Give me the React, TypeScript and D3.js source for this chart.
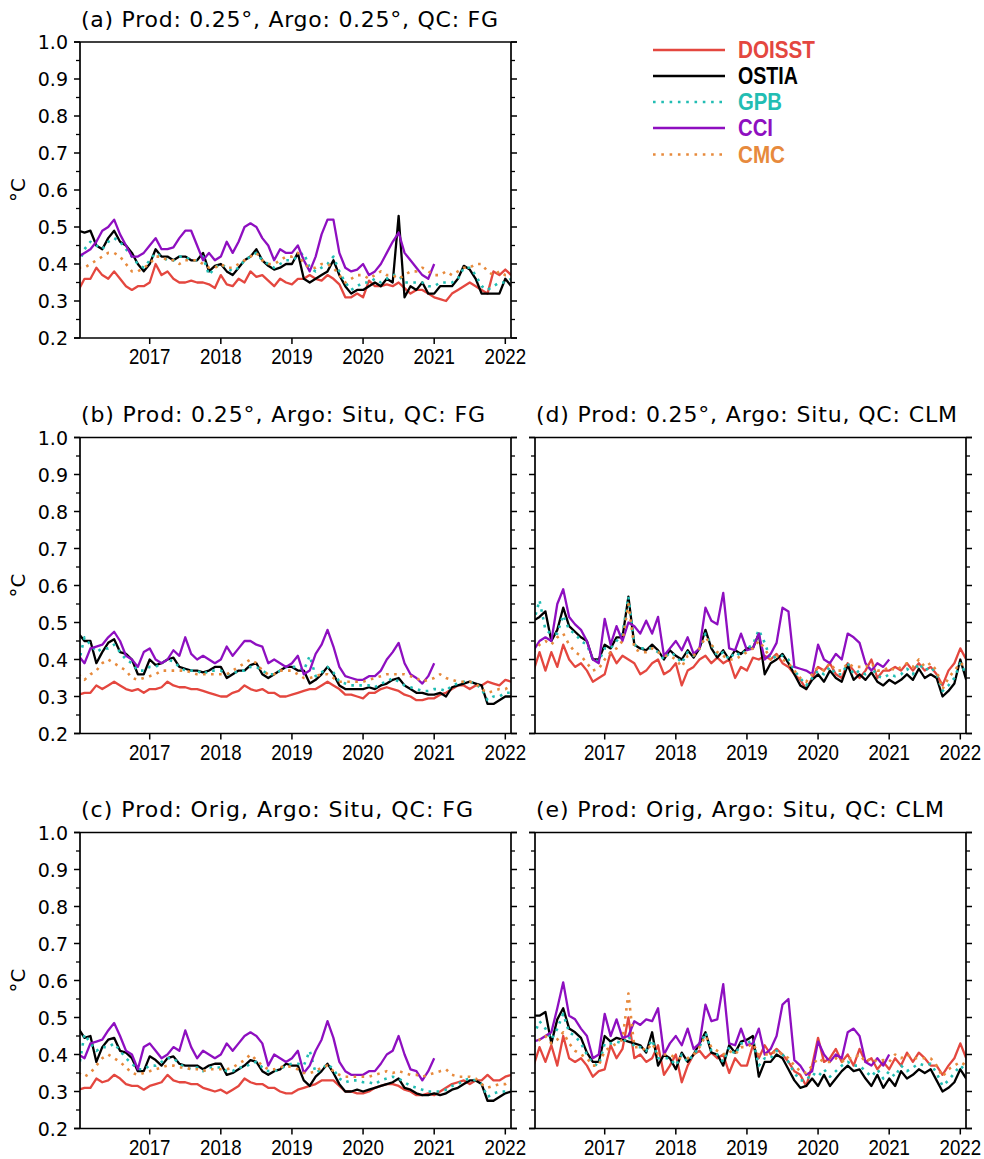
import React from "react";
import * as d3 from "d3";

// monthly time axis, Jan 2016 .. Feb 2022
const months = d3.range(74).map((i) => 2016 + i / 12);
const seriesNames = ["DOISST", "OSTIA", "GPB", "CCI", "CMC"];
const yTicks = [0.2, 0.3, 0.4, 0.5, 0.6, 0.7, 0.8, 0.9, 1.0];
const yMinorTicks = [0.25, 0.35, 0.45, 0.55, 0.65, 0.75, 0.85, 0.95];
const xTicks = [2017, 2018, 2019, 2020, 2021, 2022];

// (a) Prod 0.25, Argo 0.25, QC FG
const doisstA = [
  0.33, 0.36, 0.36, 0.39, 0.37, 0.36, 0.38, 0.36, 0.34, 0.33, 0.34, 0.34,
  0.35, 0.40, 0.37, 0.38, 0.36, 0.35, 0.35, 0.355, 0.35, 0.35, 0.345, 0.335,
  0.37, 0.345, 0.34, 0.36, 0.35, 0.38, 0.365, 0.37, 0.355, 0.34, 0.36, 0.35,
  0.345, 0.36, 0.36, 0.37, 0.36, 0.355, 0.37, 0.36, 0.345, 0.31, 0.31, 0.32,
  0.31, 0.355, 0.34, 0.34, 0.345, 0.34, 0.35, 0.335, 0.32, 0.33, 0.33, 0.32,
  0.31, 0.305, 0.30, 0.32, 0.33, 0.34, 0.35, 0.34, 0.33, 0.32, 0.38, 0.37,
  0.385, 0.37,
];
const ostiaA = [
  0.49, 0.485, 0.49, 0.45, 0.44, 0.47, 0.49, 0.46, 0.45, 0.43, 0.40, 0.38,
  0.40, 0.44, 0.42, 0.42, 0.41, 0.42, 0.42, 0.41, 0.41, 0.43, 0.38, 0.395,
  0.40, 0.38, 0.37, 0.39, 0.41, 0.42, 0.44, 0.41, 0.395, 0.385, 0.39, 0.40,
  0.40, 0.43, 0.36, 0.35, 0.36, 0.37, 0.38, 0.41, 0.37, 0.34, 0.32, 0.33,
  0.33, 0.34, 0.35, 0.34, 0.36, 0.35, 0.53, 0.31, 0.34, 0.33, 0.35, 0.32,
  0.32, 0.34, 0.34, 0.34, 0.36, 0.395, 0.385, 0.36, 0.32, 0.32, 0.32, 0.32,
  0.36, 0.34,
];
const gpbA = [
  0.40, 0.44, 0.46, 0.45, 0.44, 0.46, 0.47, 0.46, 0.44, 0.42, 0.40, 0.39,
  0.41, 0.43, 0.42, 0.41, 0.41, 0.42, 0.42, 0.41, 0.41, 0.42, 0.37, 0.39,
  0.40, 0.39, 0.38, 0.39, 0.41, 0.42, 0.43, 0.41, 0.40, 0.39, 0.40, 0.41,
  0.41, 0.42, 0.43, 0.39, 0.38, 0.39, 0.40, 0.42, 0.38, 0.35, 0.33, 0.34,
  0.35, 0.35, 0.36, 0.35, 0.36, 0.37, 0.37, 0.35, 0.35, 0.35, 0.35, 0.34,
  0.34, 0.35, 0.35, 0.35, 0.36, 0.39, 0.39, 0.37, 0.34, 0.33, 0.34, 0.35,
  0.35, 0.36,
];
const cciA = [
  0.42, 0.43, 0.44, 0.46, 0.49, 0.50, 0.52, 0.48, 0.45, 0.42, 0.42, 0.43,
  0.45, 0.47, 0.44, 0.44, 0.445, 0.47, 0.49, 0.49, 0.45, 0.41, 0.43, 0.41,
  0.42, 0.46, 0.43, 0.46, 0.50, 0.51, 0.50, 0.47, 0.45, 0.41, 0.44, 0.43,
  0.43, 0.45, 0.41, 0.38, 0.42, 0.48, 0.52, 0.52, 0.43, 0.39, 0.38, 0.385,
  0.40, 0.37, 0.38, 0.40, 0.43, 0.46, 0.485, 0.43, 0.41, 0.39, 0.37, 0.36,
  0.40,
];
const cmcA = [
  0.39, 0.39, 0.40, 0.41, 0.42, 0.43, 0.43, 0.42, 0.40, 0.38, 0.38, 0.39,
  0.40, 0.42, 0.42, 0.41, 0.41, 0.40, 0.41, 0.41, 0.41, 0.40, 0.39, 0.39,
  0.40, 0.39, 0.39, 0.40, 0.41, 0.42, 0.43, 0.41, 0.40, 0.40, 0.41, 0.42,
  0.42, 0.43, 0.40, 0.39, 0.39, 0.40, 0.40, 0.39, 0.37, 0.35, 0.36, 0.37,
  0.37, 0.36, 0.37, 0.38, 0.37, 0.37, 0.36, 0.37, 0.38, 0.38, 0.39, 0.38,
  0.37, 0.37, 0.38, 0.37, 0.38, 0.39, 0.39, 0.40, 0.40, 0.38, 0.37, 0.38,
  0.37, 0.37,
];

// (b) Prod 0.25, Argo Situ, QC FG
const doisstB = [
  0.305, 0.31, 0.31, 0.33, 0.32, 0.33, 0.34, 0.33, 0.32, 0.315, 0.32, 0.31,
  0.32, 0.32, 0.325, 0.34, 0.33, 0.325, 0.325, 0.32, 0.32, 0.315, 0.31, 0.305,
  0.30, 0.30, 0.31, 0.315, 0.33, 0.32, 0.315, 0.32, 0.31, 0.31, 0.30, 0.30,
  0.305, 0.31, 0.315, 0.32, 0.32, 0.33, 0.34, 0.33, 0.32, 0.305, 0.305, 0.30,
  0.295, 0.31, 0.31, 0.32, 0.325, 0.32, 0.315, 0.305, 0.30, 0.29, 0.29, 0.295,
  0.295, 0.305, 0.31, 0.32, 0.33, 0.33, 0.32, 0.33, 0.33, 0.34, 0.335, 0.33,
  0.345, 0.34,
];
const ostiaB = [
  0.47, 0.45, 0.45, 0.39, 0.42, 0.445, 0.455, 0.42, 0.415, 0.40, 0.36, 0.36,
  0.40, 0.385, 0.39, 0.40, 0.405, 0.38, 0.375, 0.37, 0.37, 0.365, 0.37, 0.38,
  0.38, 0.35, 0.36, 0.37, 0.37, 0.385, 0.39, 0.36, 0.35, 0.36, 0.37, 0.38,
  0.38, 0.37, 0.37, 0.335, 0.345, 0.36, 0.38, 0.36, 0.33, 0.32, 0.32, 0.32,
  0.32, 0.325, 0.32, 0.33, 0.335, 0.345, 0.35, 0.33, 0.32, 0.31, 0.31, 0.305,
  0.305, 0.31, 0.30, 0.325, 0.33, 0.335, 0.34, 0.335, 0.33, 0.28, 0.28, 0.29,
  0.30, 0.30,
];
const gpbB = [
  0.39, 0.46, 0.44, 0.42, 0.43, 0.43, 0.44, 0.42, 0.40, 0.39, 0.37, 0.37,
  0.38, 0.38, 0.39, 0.40, 0.395, 0.38, 0.37, 0.37, 0.37, 0.36, 0.37, 0.37,
  0.37, 0.36, 0.36, 0.37, 0.37, 0.38, 0.38, 0.37, 0.36, 0.36, 0.37, 0.38,
  0.38, 0.38, 0.37, 0.41, 0.355, 0.365, 0.38, 0.365, 0.34, 0.335, 0.33, 0.33,
  0.33, 0.33, 0.325, 0.335, 0.34, 0.35, 0.34, 0.33, 0.325, 0.32, 0.315, 0.315,
  0.32, 0.32, 0.315, 0.33, 0.335, 0.34, 0.34, 0.335, 0.32, 0.29, 0.30, 0.30,
  0.31, 0.31,
];
const cciB = [
  0.41, 0.39, 0.43, 0.435, 0.44, 0.46, 0.475, 0.45, 0.41, 0.40, 0.38, 0.42,
  0.43, 0.40, 0.39, 0.40, 0.425, 0.41, 0.46, 0.415, 0.40, 0.41, 0.40, 0.39,
  0.40, 0.435, 0.41, 0.43, 0.45, 0.45, 0.44, 0.435, 0.39, 0.40, 0.39, 0.38,
  0.39, 0.41, 0.36, 0.37, 0.415, 0.44, 0.48, 0.435, 0.38, 0.355, 0.35, 0.345,
  0.345, 0.355, 0.355, 0.37, 0.40, 0.42, 0.445, 0.39, 0.36, 0.35, 0.335, 0.355,
  0.39,
];
const cmcB = [
  0.36, 0.345, 0.36, 0.37, 0.39, 0.40, 0.39, 0.38, 0.37, 0.35, 0.345, 0.35,
  0.355, 0.36, 0.37, 0.37, 0.37, 0.37, 0.37, 0.365, 0.36, 0.36, 0.36, 0.36,
  0.36, 0.36, 0.37, 0.38, 0.39, 0.40, 0.39, 0.37, 0.36, 0.36, 0.37, 0.37,
  0.37, 0.36, 0.35, 0.35, 0.355, 0.36, 0.36, 0.35, 0.34, 0.34, 0.34, 0.34,
  0.34, 0.345, 0.35, 0.355, 0.36, 0.36, 0.36, 0.36, 0.355, 0.35, 0.34, 0.345,
  0.35, 0.36, 0.35, 0.345, 0.34, 0.34, 0.34, 0.335, 0.32, 0.31, 0.315, 0.32,
  0.32, 0.33,
];

// (c) Prod Orig, Argo Situ, QC FG
const doisstC = [
  0.305, 0.31, 0.31, 0.335, 0.325, 0.33, 0.345, 0.335, 0.32, 0.315, 0.315, 0.305,
  0.315, 0.32, 0.325, 0.345, 0.33, 0.325, 0.325, 0.32, 0.32, 0.31, 0.305, 0.30,
  0.305, 0.295, 0.305, 0.315, 0.335, 0.325, 0.32, 0.32, 0.31, 0.31, 0.30, 0.295,
  0.295, 0.305, 0.31, 0.315, 0.32, 0.33, 0.33, 0.33, 0.315, 0.30, 0.30, 0.295,
  0.295, 0.30, 0.31, 0.315, 0.32, 0.32, 0.315, 0.305, 0.30, 0.29, 0.29, 0.295,
  0.29, 0.30, 0.31, 0.32, 0.325, 0.33, 0.32, 0.33, 0.33, 0.345, 0.33, 0.33,
  0.34, 0.345,
];
const ostiaC = [
  0.47, 0.445, 0.45, 0.38, 0.42, 0.44, 0.445, 0.41, 0.405, 0.39, 0.355, 0.355,
  0.395, 0.385, 0.37, 0.39, 0.395, 0.375, 0.37, 0.37, 0.37, 0.36, 0.37, 0.375,
  0.375, 0.345, 0.35, 0.36, 0.37, 0.385, 0.38, 0.355, 0.345, 0.355, 0.36, 0.375,
  0.37, 0.37, 0.33, 0.315, 0.34, 0.355, 0.375, 0.35, 0.32, 0.30, 0.30, 0.305,
  0.30, 0.305, 0.31, 0.315, 0.32, 0.325, 0.335, 0.31, 0.305, 0.295, 0.29, 0.29,
  0.295, 0.29, 0.295, 0.305, 0.31, 0.32, 0.33, 0.33, 0.32, 0.275, 0.275, 0.285,
  0.295, 0.30,
];
const gpbC = [
  0.36, 0.455, 0.43, 0.41, 0.42, 0.42, 0.43, 0.41, 0.39, 0.375, 0.36, 0.36,
  0.37, 0.37, 0.38, 0.39, 0.39, 0.375, 0.365, 0.36, 0.365, 0.355, 0.365, 0.365,
  0.365, 0.355, 0.355, 0.365, 0.365, 0.375, 0.38, 0.365, 0.355, 0.355, 0.36, 0.37,
  0.375, 0.375, 0.37, 0.41, 0.35, 0.36, 0.375, 0.36, 0.335, 0.325, 0.33, 0.33,
  0.325, 0.325, 0.32, 0.33, 0.335, 0.34, 0.335, 0.325, 0.315, 0.31, 0.305, 0.30,
  0.30, 0.30, 0.305, 0.315, 0.32, 0.33, 0.335, 0.33, 0.32, 0.285, 0.295, 0.30,
  0.30, 0.305,
];
const cciC = [
  0.40, 0.39, 0.43, 0.435, 0.44, 0.465, 0.485, 0.45, 0.41, 0.40, 0.36, 0.42,
  0.43, 0.41, 0.39, 0.40, 0.42, 0.41, 0.465, 0.42, 0.39, 0.41, 0.40, 0.39,
  0.40, 0.43, 0.41, 0.43, 0.45, 0.46, 0.45, 0.43, 0.37, 0.40, 0.39, 0.38,
  0.39, 0.41, 0.35, 0.37, 0.41, 0.44, 0.49, 0.445, 0.38, 0.355, 0.345, 0.345,
  0.345, 0.355, 0.355, 0.375, 0.40, 0.41, 0.45, 0.40, 0.36, 0.355, 0.33, 0.355,
  0.39,
];
const cmcC = [
  0.35, 0.34, 0.35, 0.37, 0.39, 0.40, 0.39, 0.38, 0.365, 0.35, 0.345, 0.35,
  0.355, 0.36, 0.365, 0.37, 0.37, 0.365, 0.365, 0.36, 0.36, 0.355, 0.36, 0.36,
  0.36, 0.36, 0.365, 0.375, 0.385, 0.40, 0.385, 0.37, 0.36, 0.36, 0.365, 0.37,
  0.365, 0.36, 0.35, 0.35, 0.355, 0.365, 0.37, 0.355, 0.345, 0.34, 0.34, 0.34,
  0.34, 0.34, 0.345, 0.35, 0.355, 0.35, 0.355, 0.35, 0.345, 0.345, 0.34, 0.345,
  0.35, 0.355, 0.36, 0.345, 0.34, 0.34, 0.34, 0.335, 0.32, 0.31, 0.315, 0.32,
  0.32, 0.33,
];

// (d) Prod 0.25, Argo Situ, QC CLM
const doisstD = [
  0.37, 0.42, 0.37, 0.42, 0.38, 0.44, 0.40, 0.38, 0.39, 0.37, 0.34, 0.35,
  0.36, 0.42, 0.39, 0.41, 0.40, 0.39, 0.36, 0.37, 0.39, 0.40, 0.36, 0.37,
  0.39, 0.33, 0.37, 0.38, 0.40, 0.41, 0.39, 0.405, 0.39, 0.40, 0.35, 0.38,
  0.37, 0.405, 0.40, 0.41, 0.40, 0.415, 0.39, 0.38, 0.36, 0.345, 0.32, 0.35,
  0.38, 0.37, 0.39, 0.36, 0.35, 0.39, 0.37, 0.35, 0.37, 0.40, 0.35, 0.37,
  0.37, 0.38, 0.37, 0.39, 0.37, 0.39, 0.37, 0.38, 0.36, 0.33, 0.37, 0.39,
  0.43, 0.40,
];
const ostiaD = [
  0.505, 0.515, 0.53, 0.45, 0.48, 0.54, 0.49, 0.475, 0.46, 0.45, 0.40, 0.40,
  0.44, 0.43, 0.46, 0.46, 0.57, 0.44, 0.43, 0.425, 0.44, 0.425, 0.40, 0.425,
  0.41, 0.40, 0.425, 0.405, 0.43, 0.48, 0.43, 0.405, 0.425, 0.40, 0.425, 0.415,
  0.43, 0.43, 0.47, 0.36, 0.39, 0.40, 0.415, 0.39, 0.36, 0.33, 0.32, 0.345,
  0.36, 0.34, 0.37, 0.35, 0.34, 0.385, 0.345, 0.36, 0.345, 0.365, 0.34, 0.33,
  0.345, 0.335, 0.345, 0.36, 0.345, 0.375, 0.35, 0.36, 0.35, 0.30, 0.315, 0.335,
  0.40, 0.345,
];
const gpbD = [
  0.50, 0.56, 0.48, 0.47, 0.47, 0.52, 0.48, 0.47, 0.45, 0.44, 0.40, 0.395,
  0.43, 0.43, 0.45, 0.47, 0.57, 0.44, 0.43, 0.43, 0.43, 0.42, 0.40, 0.42,
  0.41, 0.39, 0.42, 0.41, 0.43, 0.47, 0.44, 0.41, 0.42, 0.40, 0.42, 0.41,
  0.43, 0.44, 0.48, 0.445, 0.40, 0.41, 0.41, 0.40, 0.37, 0.35, 0.33, 0.35,
  0.37, 0.36, 0.38, 0.36, 0.36, 0.39, 0.36, 0.37, 0.36, 0.38, 0.355, 0.35,
  0.36, 0.355, 0.36, 0.375, 0.36, 0.39, 0.37, 0.38, 0.36, 0.315, 0.33, 0.35,
  0.39, 0.36,
];
const cciD = [
  0.425, 0.45, 0.46, 0.45, 0.55, 0.59, 0.515, 0.495, 0.48, 0.45, 0.40, 0.39,
  0.51, 0.44, 0.49, 0.45, 0.50, 0.49, 0.47, 0.505, 0.47, 0.515, 0.41, 0.43,
  0.45, 0.425, 0.46, 0.415, 0.43, 0.54, 0.505, 0.495, 0.58, 0.43, 0.425, 0.47,
  0.425, 0.43, 0.47, 0.40, 0.415, 0.445, 0.54, 0.53, 0.38, 0.375, 0.37, 0.36,
  0.44, 0.40, 0.39, 0.415, 0.40, 0.47, 0.46, 0.445, 0.39, 0.37, 0.39, 0.38,
  0.40,
];
const cmcD = [
  0.42, 0.44, 0.45, 0.44, 0.46, 0.47, 0.44, 0.42, 0.41, 0.39, 0.37, 0.375,
  0.40, 0.42, 0.43, 0.45, 0.55, 0.43, 0.42, 0.42, 0.43, 0.42, 0.41, 0.41,
  0.40, 0.38, 0.41, 0.41, 0.43, 0.46, 0.44, 0.42, 0.41, 0.40, 0.40, 0.41,
  0.42, 0.43, 0.45, 0.43, 0.40, 0.41, 0.40, 0.39, 0.37, 0.35, 0.34, 0.36,
  0.38, 0.37, 0.39, 0.37, 0.37, 0.39, 0.38, 0.38, 0.38, 0.39, 0.37, 0.37,
  0.38, 0.37, 0.38, 0.39, 0.38, 0.40, 0.38, 0.39, 0.37, 0.32, 0.35, 0.37,
  0.39, 0.38,
];

// (e) Prod Orig, Argo Situ, QC CLM
const doisstE = [
  0.37, 0.42, 0.38, 0.425, 0.37, 0.45, 0.39, 0.38, 0.39, 0.37, 0.34, 0.355,
  0.36, 0.425, 0.39, 0.415, 0.50, 0.39, 0.40, 0.38, 0.39, 0.425, 0.345, 0.37,
  0.40, 0.325, 0.37, 0.40, 0.41, 0.39, 0.405, 0.39, 0.40, 0.35, 0.39, 0.37,
  0.37, 0.425, 0.39, 0.425, 0.40, 0.415, 0.40, 0.38, 0.355, 0.345, 0.315, 0.37,
  0.445, 0.38, 0.39, 0.415, 0.38, 0.40, 0.37, 0.415, 0.38, 0.39, 0.36, 0.38,
  0.36, 0.39, 0.37, 0.405, 0.38, 0.405, 0.39, 0.37, 0.37, 0.345, 0.37, 0.39,
  0.43, 0.39,
];
const ostiaE = [
  0.505, 0.505, 0.515, 0.43, 0.495, 0.525, 0.47, 0.46, 0.445, 0.405, 0.38, 0.38,
  0.45, 0.435, 0.445, 0.44, 0.435, 0.43, 0.425, 0.405, 0.46, 0.37, 0.40, 0.39,
  0.36, 0.405, 0.38, 0.40, 0.43, 0.46, 0.405, 0.40, 0.37, 0.425, 0.405, 0.435,
  0.44, 0.45, 0.34, 0.38, 0.38, 0.40, 0.39, 0.36, 0.33, 0.31, 0.315, 0.335,
  0.315, 0.345, 0.315, 0.335, 0.355, 0.37, 0.355, 0.36, 0.335, 0.315, 0.345, 0.31,
  0.335, 0.315, 0.355, 0.335, 0.345, 0.36, 0.35, 0.36, 0.33, 0.30, 0.31, 0.325,
  0.36, 0.335,
];
const gpbE = [
  0.45, 0.49, 0.47, 0.44, 0.47, 0.51, 0.46, 0.45, 0.43, 0.40, 0.375, 0.37,
  0.43, 0.43, 0.435, 0.43, 0.45, 0.42, 0.42, 0.41, 0.44, 0.39, 0.39, 0.39,
  0.37, 0.40, 0.38, 0.40, 0.42, 0.46, 0.41, 0.40, 0.38, 0.42, 0.40, 0.43,
  0.43, 0.44, 0.37, 0.39, 0.39, 0.41, 0.40, 0.38, 0.35, 0.33, 0.33, 0.35,
  0.34, 0.36, 0.34, 0.355, 0.37, 0.38, 0.37, 0.37, 0.355, 0.34, 0.36, 0.335,
  0.355, 0.34, 0.37, 0.355, 0.365, 0.375, 0.37, 0.375, 0.35, 0.315, 0.33, 0.35,
  0.37, 0.355,
];
const cciE = [
  0.435, 0.44, 0.45, 0.46, 0.525, 0.595, 0.505, 0.495, 0.47, 0.45, 0.39, 0.40,
  0.51, 0.45, 0.495, 0.445, 0.45, 0.49, 0.48, 0.495, 0.49, 0.525, 0.40, 0.43,
  0.45, 0.425, 0.47, 0.415, 0.43, 0.535, 0.49, 0.495, 0.59, 0.43, 0.425, 0.47,
  0.425, 0.43, 0.47, 0.40, 0.415, 0.45, 0.535, 0.55, 0.385, 0.37, 0.345, 0.355,
  0.435, 0.40, 0.38, 0.40, 0.39, 0.46, 0.47, 0.45, 0.38, 0.37, 0.39, 0.37,
  0.40,
];
const cmcE = [
  0.42, 0.44, 0.45, 0.43, 0.44, 0.46, 0.43, 0.41, 0.40, 0.39, 0.37, 0.37,
  0.41, 0.42, 0.43, 0.44, 0.565, 0.42, 0.42, 0.41, 0.43, 0.40, 0.40, 0.40,
  0.39, 0.39, 0.39, 0.40, 0.42, 0.45, 0.42, 0.41, 0.40, 0.41, 0.40, 0.42,
  0.42, 0.43, 0.40, 0.40, 0.40, 0.41, 0.40, 0.39, 0.37, 0.355, 0.35, 0.37,
  0.39, 0.38, 0.38, 0.39, 0.38, 0.39, 0.39, 0.40, 0.38, 0.39, 0.38, 0.385,
  0.38, 0.40, 0.39, 0.40, 0.39, 0.39, 0.39, 0.39, 0.37, 0.34, 0.36, 0.37,
  0.38, 0.37,
];

const colors: Record<string, string> = {
  DOISST: "#e4473f",
  OSTIA: "#000000",
  GPB: "#22bdb3",
  CCI: "#8e0fc0",
  CMC: "#e78a3c",
};
const dotted: Record<string, boolean> = { GPB: true, CMC: true };

const panels = [
  { title: "(a) Prod: 0.25°, Argo: 0.25°, QC: FG", col: 0, row: 0, tl: 417,
    series: [doisstA, ostiaA, gpbA, cciA, cmcA] },
  { title: "(b) Prod: 0.25°, Argo: Situ, QC: FG", col: 0, row: 1, tl: 404,
    series: [doisstB, ostiaB, gpbB, cciB, cmcB] },
  { title: "(c) Prod: Orig, Argo: Situ, QC: FG", col: 0, row: 2, tl: 392,
    series: [doisstC, ostiaC, gpbC, cciC, cmcC] },
  { title: "(d) Prod: 0.25°, Argo: Situ, QC: CLM", col: 1, row: 1, tl: 421,
    series: [doisstD, ostiaD, gpbD, cciD, cmcD] },
  { title: "(e) Prod: Orig, Argo: Situ, QC: CLM", col: 1, row: 2, tl: 408,
    series: [doisstE, ostiaE, gpbE, cciE, cmcE] },
];

const colLeft = [80, 535];
const rowTop = [42, 437.5, 832.5];
const PW = 431;
const PH = 296;

const Panel = ({ p, idx }: { p: (typeof panels)[number]; idx: number }) => {
  const left = colLeft[p.col];
  const top = rowTop[p.row];
  const x = d3.scaleLinear().domain([2016.02, 2022.08]).range([left, left + PW]);
  const y = d3.scaleLinear().domain([0.2, 1.0]).range([top + PH, top]);
  const line = d3
    .line<number>()
    .x((_, i) => x(months[i]))
    .y((d) => y(d));
  const clipId = `clip-${idx}`;
  const axisW = 1.7;

  return (
    <g>
      <defs>
        <clipPath id={clipId}>
          <rect x={left} y={top - 2} width={PW} height={PH + 4} />
        </clipPath>
      </defs>

      {/* title */}
      <text
        x={left + 1}
        y={top - 15.5}
        fontFamily="DejaVu Sans"
        fontSize={22}
        textLength={p.tl}
        lengthAdjust="spacing"
        fill="#000"
      >
        {p.title}
      </text>

      {/* data lines */}
      <g clipPath={`url(#${clipId})`}>
        {p.series.map((vals, k) => {
          const name = seriesNames[k];
          return (
            <path
              key={name}
              d={line(vals) ?? ""}
              fill="none"
              stroke={colors[name]}
              strokeWidth={dotted[name] ? 2.6 : 2.3}
              strokeDasharray={dotted[name] ? "2.6 5.4" : undefined}
              strokeLinejoin="round"
            />
          );
        })}
      </g>

      {/* frame */}
      <line x1={left - 6} x2={left + PW + 6} y1={top} y2={top} stroke="#000" strokeWidth={axisW} />
      <line x1={left - 6} x2={left + PW + 6} y1={top + PH} y2={top + PH} stroke="#000" strokeWidth={axisW} />
      <line x1={left} x2={left} y1={top} y2={top + PH} stroke="#000" strokeWidth={axisW} />
      <line x1={left + PW} x2={left + PW} y1={top} y2={top + PH} stroke="#000" strokeWidth={axisW} />

      {/* y ticks, both sides outward */}
      {yTicks.map((t) => (
        <g key={`M${t}`}>
          <line x1={left - 6} x2={left} y1={y(t)} y2={y(t)} stroke="#000" strokeWidth={1.5} />
          <line x1={left + PW} x2={left + PW + 6} y1={y(t)} y2={y(t)} stroke="#000" strokeWidth={1.5} />
        </g>
      ))}
      {yMinorTicks.map((t) => (
        <g key={`m${t}`}>
          <line x1={left - 4} x2={left} y1={y(t)} y2={y(t)} stroke="#000" strokeWidth={1.3} />
          <line x1={left + PW} x2={left + PW + 4} y1={y(t)} y2={y(t)} stroke="#000" strokeWidth={1.3} />
        </g>
      ))}

      {/* x ticks and labels (narrow, like the original font) */}
      {xTicks.map((t) => (
        <g key={`x${t}`}>
          <line x1={x(t)} x2={x(t)} y1={top + PH} y2={top + PH + 6} stroke="#000" strokeWidth={1.5} />
          <text
            transform={`translate(${x(t)},${top + PH + 26}) scale(0.85,1)`}
            textAnchor="middle"
            fontFamily="Liberation Sans"
            fontSize={22}
            fill="#000"
          >
            {t}
          </text>
        </g>
      ))}

      {/* y labels on left column only */}
      {p.col === 0 &&
        yTicks.map((t) => (
          <text
            key={`yl${t}`}
            x={68}
            y={y(t)}
            textAnchor="end"
            dominantBaseline="central"
            fontFamily="DejaVu Sans"
            fontSize={19}
            fill="#000"
          >
            {t.toFixed(1)}
          </text>
        ))}
      {p.col === 0 && (
        <text
          transform={`translate(25,${y(0.6)}) rotate(-90)`}
          textAnchor="middle"
          fontFamily="DejaVu Sans"
          fontSize={20}
          fill="#000"
        >
          °C
        </text>
      )}
    </g>
  );
};

const legendRows = [50, 76, 102, 128, 154.5];
const legendLen = [77, 60, 44, 35, 47];

const Legend = () => (
  <g>
    {seriesNames.map((name, i) => (
      <g key={name}>
        <line
          x1={653}
          x2={725}
          y1={legendRows[i]}
          y2={legendRows[i]}
          stroke={colors[name]}
          strokeWidth={dotted[name] ? 2.6 : 2.3}
          strokeDasharray={dotted[name] ? "2.6 5.7" : undefined}
        />
        <text
          x={738}
          y={legendRows[i] + 8.3}
          fontFamily="Liberation Sans"
          fontWeight="bold"
          fontSize={23}
          textLength={legendLen[i]}
          lengthAdjust="spacingAndGlyphs"
          fill={colors[name]}
        >
          {name}
        </text>
      </g>
    ))}
  </g>
);

export default function App() {
  return (
    <svg
      width={984}
      height={1159}
      style={{ position: "absolute", left: 0, top: 0, background: "#fff" }}
    >
      <rect width={984} height={1159} fill="#fff" />
      {panels.map((p, i) => (
        <Panel key={i} p={p} idx={i} />
      ))}
      <Legend />
    </svg>
  );
}
